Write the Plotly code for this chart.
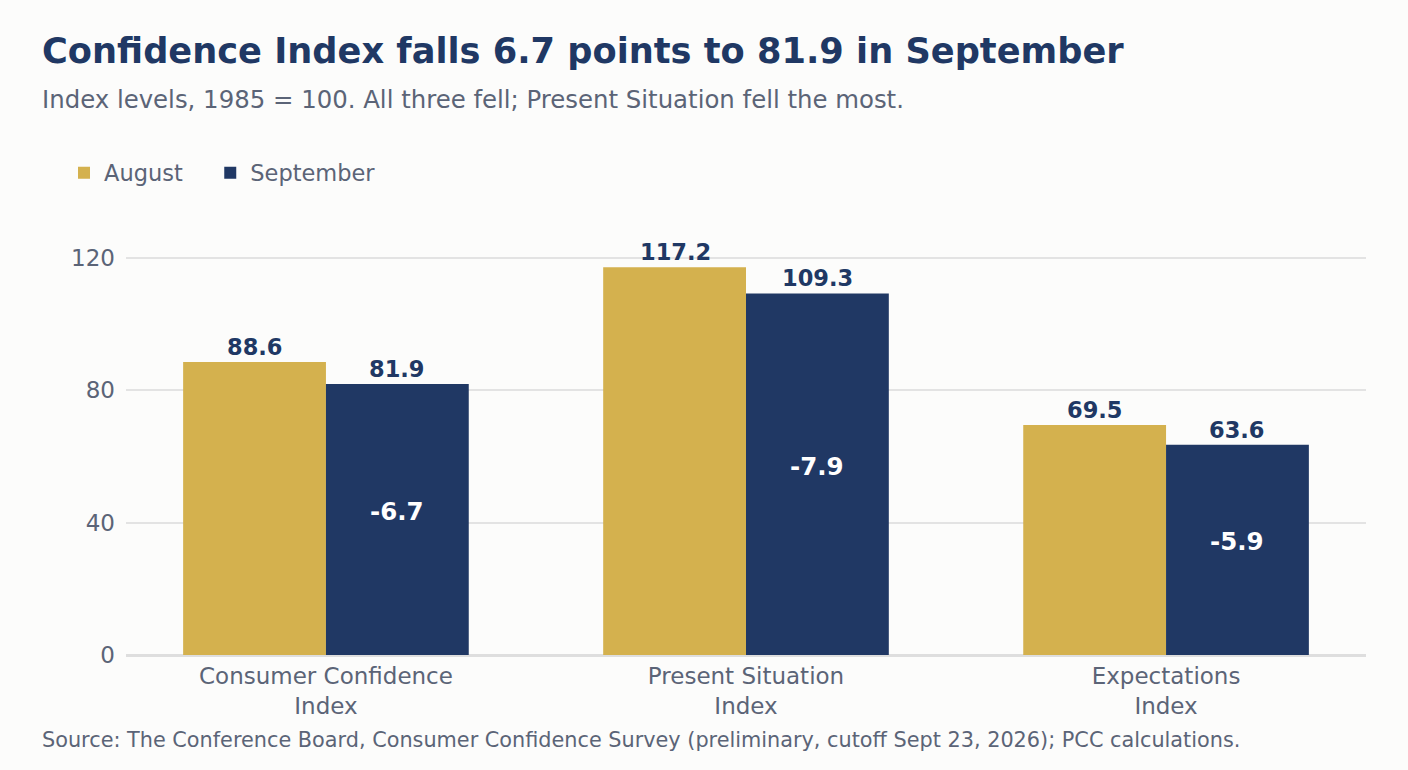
import plotly.graph_objects as go

# Data
categories = ["Consumer Confidence<br>Index", "Present Situation<br>Index", "Expectations<br>Index"]
series_names = ["August", "September"]
august = [88.6, 117.2, 69.5]
september = [81.9, 109.3, 63.6]
changes = [round(s - a, 1) for a, s in zip(august, september)]
y_ticks = [0, 40, 80, 120]

GOLD = "#D4B14E"
NAVY = "#203864"
GRAY_TEXT = "#5B6477"
BG = "#FCFCFB"
FONT = "DejaVu Sans"

# plot area in pixels (for placing header / footer text)
W, H = 1408, 770
L, R, T, B = 126, 42, 225, 115
PW, PH = W - L - R, H - T - B


def px_to_paper(px, py):
    return (px - L) / PW, (H - B - py) / PH


fig = go.Figure()
# en spaces after the first name widen the gap between legend entries
fig.add_trace(go.Bar(name=series_names[0] + "\u2002\u2002", x=categories, y=august,
                     marker_color=GOLD, marker_line_width=0, hoverinfo="skip"))
fig.add_trace(go.Bar(name=series_names[1], x=categories, y=september,
                     marker_color=NAVY, marker_line_width=0, hoverinfo="skip"))

# value labels above bars and change labels inside September bars
annotations = []
for cat, a, s, d in zip(categories, august, september, changes):
    annotations.append(dict(x=cat, y=a, xref="x", yref="y", text=f"<b>{a:.1f}</b>",
                            showarrow=False, xshift=-71, yanchor="bottom", yshift=0,
                            font=dict(family=FONT, size=22.5, color=NAVY)))
    annotations.append(dict(x=cat, y=s, xref="x", yref="y", text=f"<b>{s:.1f}</b>",
                            showarrow=False, xshift=71, yanchor="bottom", yshift=0,
                            font=dict(family=FONT, size=22.5, color=NAVY)))
    annotations.append(dict(x=cat, y=s / 2, xref="x", yref="y", text=f"<b>{d:.1f}</b>",
                            showarrow=False, xshift=71, yshift=8,
                            font=dict(family=FONT, size=24.5, color="white")))

sx, sy = px_to_paper(40, 100)
annotations.append(dict(x=sx, y=sy, xref="paper", yref="paper",
                        text="Index levels, 1985 = 100. All three fell; Present Situation fell the most.",
                        showarrow=False, xanchor="left", yanchor="middle",
                        font=dict(family=FONT, size=24.4, color=GRAY_TEXT)))
fx, fy = px_to_paper(40, 740)
annotations.append(dict(x=fx, y=fy, xref="paper", yref="paper",
                        text="Source: The Conference Board, Consumer Confidence Survey (preliminary, cutoff Sept 23, 2026); PCC calculations.",
                        showarrow=False, xanchor="left", yanchor="middle",
                        font=dict(family=FONT, size=20.8, color=GRAY_TEXT)))

fig.update_layout(
    width=W,
    height=H,
    paper_bgcolor=BG,
    plot_bgcolor=BG,
    barmode="group",
    bargap=0.32,
    bargroupgap=0,
    margin=dict(l=L, r=R, t=T, b=B),
    font=dict(family=FONT, size=23, color=GRAY_TEXT),
    title=dict(text="<b>Confidence Index falls 6.7 points to 81.9 in September</b>",
               x=42 / W, xref="container", xanchor="left",
               y=1 - 51 / H, yref="container", yanchor="middle",
               font=dict(family=FONT, size=35.2, color=NAVY)),
    legend=dict(orientation="h", xref="container", yref="container",
                x=64 / W, y=1 - 173 / H, xanchor="left", yanchor="middle",
                font=dict(family=FONT, size=22.5, color=GRAY_TEXT),
                bgcolor="rgba(0,0,0,0)"),
    annotations=annotations,
    showlegend=True,
)

fig.update_xaxes(range=[-0.476, 2.476], showgrid=False, showline=False,
                 ticks="", ticklabelstandoff=5, tickfont=dict(size=23, color=GRAY_TEXT),
                 fixedrange=True)
fig.update_yaxes(range=[0, 130], tickvals=y_ticks, showgrid=True, gridcolor="#E3E3E3",
                 gridwidth=2, zeroline=True, zerolinecolor="#DEDEDE", zerolinewidth=3,
                 ticks="", ticklabelstandoff=10, tickfont=dict(size=23, color=GRAY_TEXT),
                 fixedrange=True)

fig.write_html("out.html", config={"displayModeBar": False},
               post_script=f"document.body.style.margin='0';document.body.style.background='{BG}';")
